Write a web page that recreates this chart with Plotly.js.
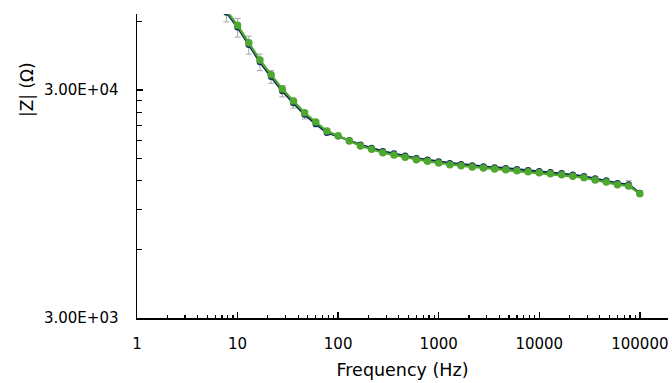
<!DOCTYPE html>
<html>
<head>
<meta charset="utf-8">
<script src="https://cdn.plot.ly/plotly-3.0.1.min.js"></script>
<style>html,body{margin:0;padding:0;background:#fff;}#chart{width:672px;height:383px;}</style>
</head>
<body>
<div id="chart"></div>
<script>
var frequency = [7.743, 10, 12.92, 16.68, 21.54, 27.83, 35.94, 46.42, 59.95, 77.43,
  100, 129.2, 166.8, 215.4, 278.3, 359.4, 464.2, 599.5, 774.3,
  1000, 1292, 1668, 2154, 2783, 3594, 4642, 5995, 7743,
  10000, 12915, 16681, 21544, 27826, 35938, 46416, 59948, 77426, 100000];

var seriesA = [65700, 56500, 47400, 39800, 34300, 29700, 26300, 23400, 21300, 19500,
  18800, 18050, 17250, 16700, 16150, 15800, 15430, 15060, 14830,
  14570, 14330, 14190, 14000, 13860, 13720, 13620, 13480, 13350,
  13200, 13070, 12940, 12740, 12550, 12260, 12020, 11700, 11550, 10600];

var errorA = [6000, 5300, 4300, 3300, 2200, 1700, 1300, 1000, 600, 400,
  250, 200, 150, 150, 150, 150, 150, 150, 150,
  150, 150, 150, 150, 150, 150, 150, 150, 150,
  150, 150, 150, 150, 150, 150, 150, 150, 450, 150];

var seriesB = [67000, 57670, 48370, 40620, 35020, 30310, 26850, 23850, 21710, 19830,
  18910, 17920, 17040, 16480, 15920, 15560, 15200, 14840, 14600,
  14350, 14110, 13970, 13790, 13650, 13510, 13410, 13280, 13150,
  13010, 12880, 12750, 12550, 12370, 12090, 11850, 11530, 11380, 10530];

var yTickVals = [3000, 30000];
var yTickText = ["3.00E+03", "3.00E+04"];
var yMinorVals = [6000, 9000, 12000, 15000, 18000, 21000, 24000, 27000, 60000];
var xTickVals = [1, 10, 100, 1000, 10000, 100000];
var xTickText = ["1", "10", "100", "1000", "10000", "100000"];

var xMinorVals = [];
[1, 10, 100, 1000, 10000, 100000].forEach(function (d) {
  for (var k = 2; k <= 9; k++) xMinorVals.push(d * k);
});

var font = "'DejaVu Sans', Verdana, sans-serif";

var traces = [
  {
    x: frequency, y: seriesA, type: "scatter", mode: "lines+markers",
    line: {color: "#0E2A5E", width: 2.2},
    marker: {color: "#0E2A5E", size: 6.5},
    error_y: {type: "data", array: errorA, visible: true, color: "#A6A6A6", thickness: 1, width: 3},
    showlegend: false, hoverinfo: "x+y"
  },
  {
    x: frequency, y: seriesB, type: "scatter", mode: "lines+markers",
    line: {color: "#4EA72E", width: 2.2},
    marker: {color: "#4EA72E", size: 7.5},
    showlegend: false, hoverinfo: "x+y"
  }
];

var layout = {
  width: 672, height: 383,
  margin: {l: 137, r: 4, t: 14, b: 65},
  paper_bgcolor: "#fff", plot_bgcolor: "#fff",
  font: {family: font, color: "#000", size: 15},
  xaxis: {
    type: "log", range: [0, 5.28],
    tickmode: "array", tickvals: xTickVals, ticktext: xTickText,
    ticks: "inside", ticklen: 6, tickwidth: 1.5, tickcolor: "#000",
    minor: {tickvals: xMinorVals, ticks: "inside", ticklen: 3.5, tickwidth: 1.2, tickcolor: "#000", showgrid: false},
    showline: true, linecolor: "#000", linewidth: 1.5,
    showgrid: false, zeroline: false,
    tickfont: {size: 15, family: font, color: "#000"},
    ticklabelstandoff: 11,
    title: {text: "Frequency (Hz)", font: {size: 17.5, family: font, color: "#000"}, standoff: 12}
  },
  yaxis: {
    type: "log", range: [Math.log10(3000), Math.log10(64640)],
    tickmode: "array", tickvals: yTickVals, ticktext: yTickText,
    ticks: "inside", ticklen: 6, tickwidth: 1.5, tickcolor: "#000",
    minor: {tickvals: yMinorVals, ticks: "inside", ticklen: 4.5, tickwidth: 1.2, tickcolor: "#000", showgrid: false},
    showline: true, linecolor: "#000", linewidth: 1.5,
    showgrid: false, zeroline: false,
    tickfont: {size: 15, family: font, color: "#000"},
    ticklabelstandoff: 14
  },
  annotations: [{
    text: "|Z| (Ω)", xref: "paper", yref: "paper",
    x: -0.207, y: 0.75, xanchor: "center", yanchor: "middle",
    textangle: -90, showarrow: false,
    font: {size: 17, family: font, color: "#000"}
  }]
};

Plotly.newPlot("chart", traces, layout, {displayModeBar: false, staticPlot: true});
</script>
</body>
</html>
